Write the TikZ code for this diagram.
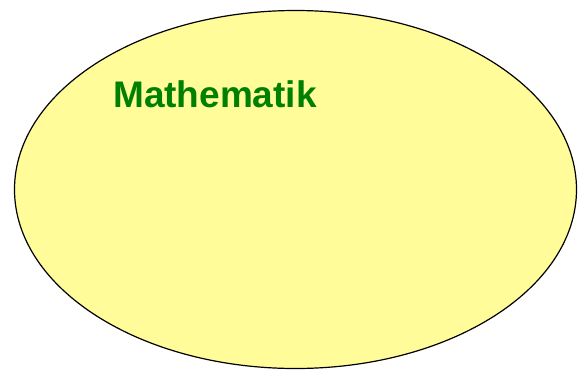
\documentclass[tikz,border=0pt]{standalone}
\usepackage{fontspec}
\setmainfont{Liberation Sans}
\definecolor{ellfill}{RGB}{255,252,153}
\definecolor{titlegreen}{RGB}{0,128,0}
\begin{document}
\begin{tikzpicture}[x=1pt,y=1pt,
  setell/.style={draw=black, line width=1.2pt, fill=ellfill},
  titletext/.style={font=\fontsize{37}{44}\selectfont\bfseries, text=titlegreen, inner sep=0pt, anchor=base west}]
\useasboundingbox (0,0) rectangle (587,-370);
\path[setell] (295.5,-189.5) ellipse [x radius=281, y radius=179];
\node[titletext] (title) at (113,-107) {Mathematik};
\end{tikzpicture}
\end{document}
